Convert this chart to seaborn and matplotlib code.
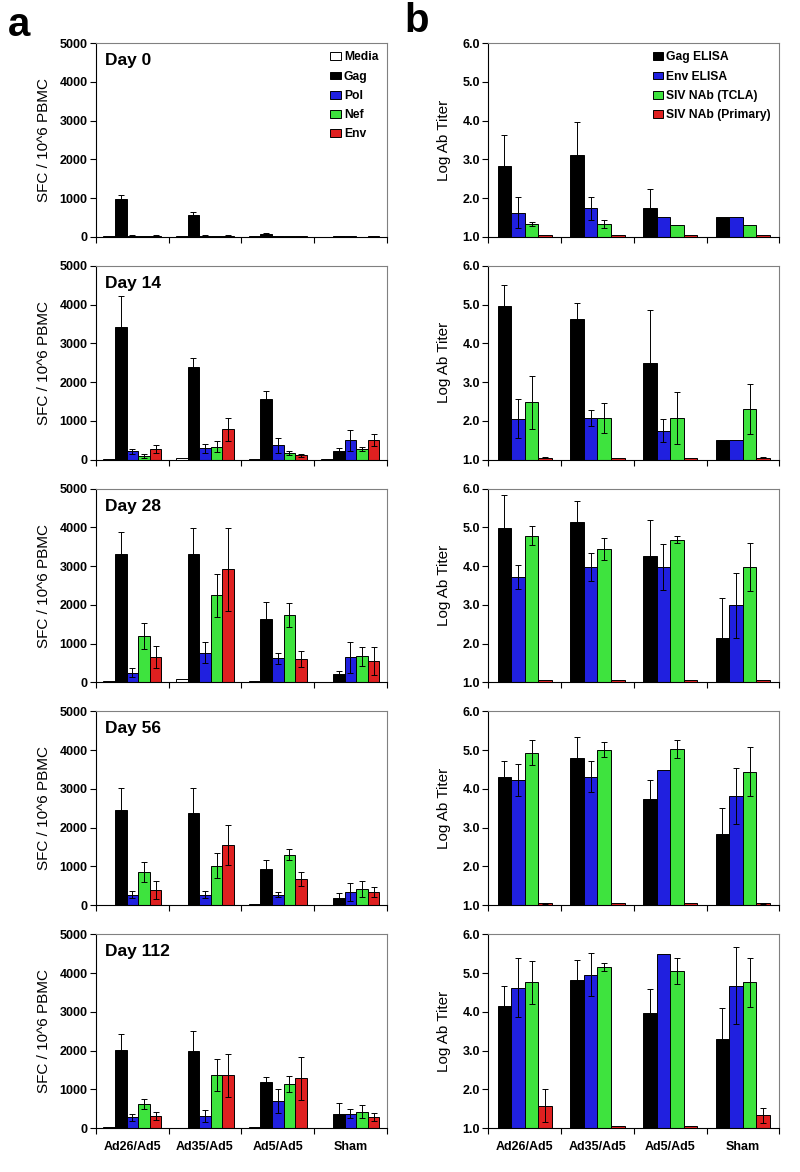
import pandas as pd
import matplotlib
matplotlib.use('Agg')
import matplotlib.pyplot as plt
import seaborn as sns

sns.set_theme(style='ticks')
plt.rcParams['font.family'] = ['Liberation Sans', 'DejaVu Sans']
plt.rcParams.update({'text.color': 'black', 'axes.labelcolor': 'black',
                     'xtick.color': 'black', 'ytick.color': 'black'})

groups = ['Ad26/Ad5', 'Ad35/Ad5', 'Ad5/Ad5', 'Sham']
days = ['Day 0', 'Day 14', 'Day 28', 'Day 56', 'Day 112']

# panel a: ELISPOT, rows = groups, columns = antigens
antigens = ['Media', 'Gag', 'Pol', 'Nef', 'Env']
antigen_colors = ['white', 'black', '#0000ff', '#22ff22', '#ff0000']

sfc_d0 = [[10, 970, 30, 10, 30], [10, 560, 30, 20, 30], [10, 70, 20, 15, 10], [5, 10, 10, 5, 10]]
sfc_d0_err = [[0, 105, 5, 0, 10], [0, 80, 5, 0, 5], [0, 15, 0, 0, 0], [0, 0, 0, 0, 0]]
sfc_d14 = [[10, 3430, 210, 100, 270], [30, 2380, 290, 330, 780], [10, 1560, 370, 180, 110], [10, 230, 500, 280, 500]]
sfc_d14_err = [[0, 780, 60, 50, 110], [0, 250, 110, 140, 300], [0, 210, 200, 50, 40], [0, 80, 270, 50, 160]]
sfc_d28 = [[30, 3320, 250, 1190, 650], [90, 3320, 760, 2250, 2920], [40, 1640, 620, 1740, 605], [10, 225, 650, 675, 560]]
sfc_d28_err = [[0, 550, 120, 340, 290], [0, 670, 270, 550, 1070], [0, 430, 150, 300, 195], [0, 75, 400, 245, 360]]
sfc_d56 = [[10, 2450, 275, 860, 395], [10, 2390, 275, 1020, 1555], [30, 936, 275, 1300, 670], [10, 190, 350, 420, 335]]
sfc_d56_err = [[0, 570, 85, 250, 232], [0, 630, 95, 320, 525], [0, 244, 55, 140, 180], [0, 120, 235, 215, 130]]
sfc_d112 = [[20, 2020, 277, 615, 312], [10, 2000, 320, 1360, 1360], [30, 1190, 693, 1135, 1280], [10, 373, 373, 425, 286]]
sfc_d112_err = [[0, 400, 96, 122, 113], [0, 500, 157, 410, 550], [0, 140, 307, 215, 560], [0, 277, 121, 165, 114]]

# panel b: antibody titers, rows = groups, columns = assays
assays = ['Gag ELISA', 'Env ELISA', 'SIV NAb (TCLA)', 'SIV NAb (Primary)']
assay_colors = ['black', '#0000ff', '#22ff22', '#ff0000']

ab_d0 = [[2.82, 1.62, 1.33, 1.05], [3.12, 1.73, 1.32, 1.05], [1.74, 1.5, 1.3, 1.05], [1.5, 1.5, 1.3, 1.05]]
ab_d0_err = [[0.8, 0.4, 0.05, 0], [0.84, 0.29, 0.1, 0], [0.48, 0, 0, 0], [0, 0, 0, 0]]
ab_d14 = [[4.97, 2.06, 2.48, 1.05], [4.63, 2.07, 2.07, 1.05], [3.49, 1.75, 2.07, 1.05], [1.5, 1.5, 2.31, 1.05]]
ab_d14_err = [[0.54, 0.5, 0.68, 0.02], [0.41, 0.2, 0.39, 0], [1.38, 0.29, 0.68, 0], [0, 0, 0.65, 0.02]]
ab_d28 = [[4.99, 3.73, 4.79, 1.05], [5.15, 3.98, 4.45, 1.05], [4.25, 3.98, 4.68, 1.05], [2.14, 2.99, 3.99, 1.05]]
ab_d28_err = [[0.85, 0.31, 0.24, 0], [0.52, 0.36, 0.28, 0], [0.94, 0.59, 0.09, 0], [1.04, 0.84, 0.62, 0]]
ab_d56 = [[4.32, 4.23, 4.94, 1.05], [4.81, 4.32, 5.01, 1.05], [3.73, 4.49, 5.04, 1.05], [2.83, 3.82, 4.45, 1.05]]
ab_d56_err = [[0.39, 0.42, 0.33, 0.02], [0.54, 0.39, 0.19, 0], [0.5, 0, 0.23, 0], [0.67, 0.73, 0.64, 0.02]]
ab_d112 = [[4.14, 4.62, 4.76, 1.58], [4.81, 4.96, 5.15, 1.05], [3.97, 5.48, 5.05, 1.05], [3.29, 4.67, 4.76, 1.33]]
ab_d112_err = [[0.52, 0.76, 0.55, 0.43], [0.52, 0.55, 0.1, 0], [0.62, 0, 0.33, 0], [0.8, 0.99, 0.64, 0.2]]

sfc_all = [sfc_d0, sfc_d14, sfc_d28, sfc_d56, sfc_d112]
sfc_err_all = [sfc_d0_err, sfc_d14_err, sfc_d28_err, sfc_d56_err, sfc_d112_err]
ab_all = [ab_d0, ab_d14, ab_d28, ab_d56, ab_d112]
ab_err_all = [ab_d0_err, ab_d14_err, ab_d28_err, ab_d56_err, ab_d112_err]


def to_long(vals, errs, levels):
    rows = []
    for gi, g in enumerate(groups):
        for li, lev in enumerate(levels):
            rows.append({'group': g, 'level': lev, 'value': vals[gi][li], 'err': errs[gi][li]})
    return pd.DataFrame(rows)


def draw_panel(ax, df, levels, colors, width, legend):
    sns.barplot(data=df, x='group', y='value', hue='level', order=groups, hue_order=levels,
                palette=colors, width=width, edgecolor='black', linewidth=0.7,
                errorbar=None, legend=legend, ax=ax)
    # error bars on top of seaborn's bars
    bar_conts = list(ax.containers)[:len(levels)]
    for li, cont in enumerate(bar_conts):
        sub = df[df['level'] == levels[li]].set_index('group').loc[groups]
        for bar, e in zip(cont, sub['err']):
            if e > 0:
                ax.errorbar(bar.get_x() + bar.get_width() / 2, bar.get_height(), yerr=e,
                            fmt='none', ecolor='black', elinewidth=0.7, capsize=2.5, capthick=0.7)
    ax.set_xlim(-0.5, 3.5)
    ax.set_xlabel('')
    ax.set_xticks([-0.5, 0.5, 1.5, 2.5, 3.5], minor=True)
    ax.tick_params(axis='x', which='major', length=0, labelsize=9, pad=9)
    ax.tick_params(axis='x', which='minor', length=4, width=0.8, direction='out', color='black')
    ax.tick_params(axis='y', length=4, width=0.8, direction='out', labelsize=9, pad=2)
    for lab in ax.get_xticklabels() + ax.get_yticklabels():
        lab.set_fontweight('bold')
    for s in ['left', 'bottom']:
        ax.spines[s].set_color('black')
        ax.spines[s].set_linewidth(0.8)
    for s in ['top', 'right']:
        ax.spines[s].set_color('#808080')
        ax.spines[s].set_linewidth(0.8)


fig, axes = plt.subplots(5, 2, figsize=(8, 11.72), dpi=100,
                         gridspec_kw=dict(left=0.12, right=0.974, top=0.9633, bottom=0.0375,
                                          hspace=0.15, wspace=0.35))

for r in range(5):
    axl = axes[r, 0]
    dfl = to_long(sfc_all[r], sfc_err_all[r], antigens)
    draw_panel(axl, dfl, antigens, antigen_colors, 0.8, r == 0)
    axl.set_ylim(0, 5000)
    axl.set_yticks([0, 1000, 2000, 3000, 4000, 5000])
    axl.set_yticklabels([str(v) for v in [0, 1000, 2000, 3000, 4000, 5000]], fontweight='bold')
    axl.set_ylabel('SFC / 10^6 PBMC', fontsize=11, labelpad=6)
    axl.text(0.03, 0.91, days[r], transform=axl.transAxes, fontsize=12.5, fontweight='bold',
             va='center', ha='left')

    axr = axes[r, 1]
    dfr = to_long(ab_all[r], ab_err_all[r], assays)
    draw_panel(axr, dfr, assays, assay_colors, 0.75, r == 0)
    axr.set_ylim(1.0, 6.0)
    axr.set_yticks([1, 2, 3, 4, 5, 6])
    axr.set_yticklabels(['%.1f' % v for v in [1, 2, 3, 4, 5, 6]], fontweight='bold')
    axr.set_ylabel('Log Ab Titer', fontsize=11, labelpad=8)

    if r < 4:
        axl.set_xticklabels([])
        axr.set_xticklabels([])

for ax in axes[0]:
    h, l = ax.get_legend_handles_labels()
    ax.legend(h, l, loc='upper right', frameon=False, handlelength=0.85, handleheight=0.6,
              handletextpad=0.25, labelspacing=0.6, borderaxespad=0.3,
              prop=dict(weight='bold', size=8.7))

fig.text(0.01, 0.995, 'a', fontsize=29, fontweight='bold', va='top', ha='left')
fig.text(0.505, 0.998, 'b', fontsize=29, fontweight='bold', va='top', ha='left')

fig.savefig('out.png', dpi=100)
